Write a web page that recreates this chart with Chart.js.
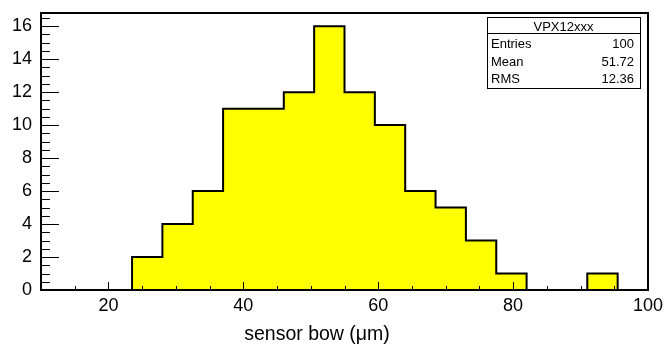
<!DOCTYPE html>
<html>
<head>
<meta charset="utf-8">
<script src="https://cdn.jsdelivr.net/npm/chart.js@4/dist/chart.umd.min.js"></script>
<style>
  html, body { margin: 0; padding: 0; background: #fff; }
  #wrap { width: 667px; height: 344px; }
</style>
</head>
<body>
<div id="wrap"><canvas id="hist" width="667" height="344"></canvas></div>
<script>
// histogram bins (left edges + last right edge) and counts
const binEdges = [10, 14.5, 19, 23.5, 28, 32.5, 37, 41.5, 46, 50.5, 55, 59.5, 64, 68.5, 73, 77.5, 82, 86.5, 91, 95.5, 100];
const counts = [0, 0, 0, 2, 4, 6, 11, 11, 12, 16, 12, 10, 6, 5, 3, 1, 0, 0, 1, 0];

// axis ticks
const xTicks = [20, 40, 60, 80, 100];
const yTicks = [0, 2, 4, 6, 8, 10, 12, 14, 16];
const xTitle = "sensor bow (\u03bcm)";

// stats box
const statTitle = "VPX12xxx";
const statLabels = ["Entries", "Mean", "RMS"];
const statValues = ["100", "51.72", "12.36"];

const points = counts.map((c, i) => ({ x: binEdges[i], y: c }));
points.push({ x: binEdges[binEdges.length - 1], y: 0 });

const FONT = "'Liberation Sans', Arial, sans-serif";

// frame, inside tick marks, axis title, stats box
const rootStyle = {
    id: "rootStyle",
    afterDatasetsDraw(chart) {
        const ctx = chart.ctx;
        const area = chart.chartArea;
        const xs = chart.scales.x;
        const ys = chart.scales.y;
        ctx.save();
        ctx.strokeStyle = "#000";
        ctx.lineWidth = 1;
        ctx.beginPath();
        // x ticks every 5, major on labelled values
        for (let v = 15; v < 100; v += 5) {
            const px = Math.round(xs.getPixelForValue(v)) + 0.5;
            const len = xTicks.includes(v) ? 8 : 4;
            ctx.moveTo(px, area.bottom);
            ctx.lineTo(px, area.bottom - len);
        }
        // y ticks every 0.5
        for (let v = 0.5; v < ys.max; v += 0.5) {
            const py = Math.round(ys.getPixelForValue(v)) + 0.5;
            const len = yTicks.includes(v) ? 18 : 9;
            ctx.moveTo(area.left, py);
            ctx.lineTo(area.left + len, py);
        }
        ctx.stroke();

        ctx.lineWidth = 2;
        ctx.strokeRect(area.left, area.top, area.right - area.left, area.bottom - area.top);

        // axis title
        ctx.fillStyle = "#000";
        ctx.font = "19.5px " + FONT;
        ctx.textAlign = "center";
        ctx.textBaseline = "alphabetic";
        ctx.fillText(xTitle, 317, 340);

        // stats box
        const bx = area.right - 161, by = area.top + 4, bw = 153, bh = 71;
        ctx.fillStyle = "#fff";
        ctx.fillRect(bx, by, bw, bh);
        ctx.lineWidth = 1;
        ctx.strokeRect(bx + 0.5, by + 0.5, bw, bh);
        ctx.beginPath();
        ctx.moveTo(bx, by + 16.5);
        ctx.lineTo(bx + bw, by + 16.5);
        ctx.stroke();
        ctx.fillStyle = "#000";
        ctx.font = "13px " + FONT;
        ctx.textAlign = "center";
        ctx.fillText(statTitle, bx + bw / 2, by + 14);
        statLabels.forEach((lab, i) => {
            const yy = by + 31 + i * 17.5;
            ctx.textAlign = "left";
            ctx.fillText(lab, bx + 4, yy);
            ctx.textAlign = "right";
            ctx.fillText(statValues[i], bx + bw - 6, yy);
        });
        ctx.restore();
    }
};

new Chart(document.getElementById("hist").getContext("2d"), {
    type: "line",
    data: {
        datasets: [{
            data: points,
            stepped: true,
            fill: "origin",
            backgroundColor: "#ffff00",
            borderColor: "#000",
            borderWidth: 2,
            pointRadius: 0
        }]
    },
    options: {
        responsive: false,
        animation: false,
        layout: { padding: { top: 13, right: 19, left: 0, bottom: 0 } },
        plugins: { legend: { display: false }, tooltip: { enabled: false } },
        scales: {
            x: {
                type: "linear",
                min: 10,
                max: 100,
                grid: { display: false, drawTicks: false },
                border: { display: false },
                ticks: { color: "#000", font: { size: 18, family: FONT }, padding: 5, maxRotation: 0 },
                afterBuildTicks: s => { s.ticks = xTicks.map(v => ({ value: v })); },
                afterFit: s => { s.height = 54; s.paddingLeft = 0; s.paddingRight = 0; }
            },
            y: {
                type: "linear",
                min: 0,
                max: 16.8,
                grid: { display: false, drawTicks: false },
                border: { display: false },
                ticks: { color: "#000", font: { size: 18, family: FONT }, padding: 9 },
                afterBuildTicks: s => { s.ticks = yTicks.map(v => ({ value: v })); },
                afterFit: s => { s.width = 41; s.paddingTop = 0; s.paddingBottom = 0; }
            }
        }
    },
    plugins: [rootStyle]
});
</script>
</body>
</html>
